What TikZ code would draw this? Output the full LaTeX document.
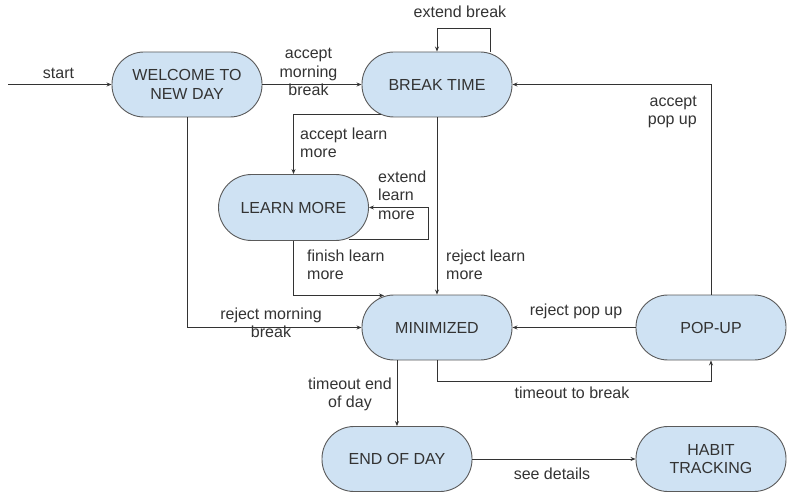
\documentclass[tikz,border=0pt]{standalone}
\usepackage{fontspec}
\setmainfont{Liberation Sans}
\usetikzlibrary{arrows.meta}
\definecolor{statefill}{RGB}{207,226,243}
\definecolor{stateline}{RGB}{90,90,90}
\definecolor{ink}{RGB}{51,51,51}
\newcommand{\fs}{\fontsize{16}{18.5}\selectfont}

\begin{document}
\begin{tikzpicture}[x=1pt,y=-1pt,
  state/.style={draw=stateline,fill=statefill,line width=0.9pt,rounded corners=32pt,
    minimum width=150pt,minimum height=65pt,inner sep=0pt,align=center,text=ink,font=\fs},
  lbl/.style={inner sep=0pt,text=ink,font=\fs},
  arr/.style={draw=ink,line width=0.8pt,-{Stealth[length=5pt,width=4pt]}}]
   \useasboundingbox (0,0) rectangle (796,500);
   \node[state] (welcome) at (187,84.5) {WELCOME TO\\NEW DAY};
   \node[state] (brk)     at (437,84.5) {BREAK TIME};
   \node[state,minimum height=66pt,rounded corners=33pt] (learn) at (293.5,207.5) {LEARN MORE};
   \node[state] (mini)    at (437,327.5) {MINIMIZED};
   \node[state] (popup)   at (711,327.5) {POP-UP};
   \node[state] (endday)  at (397,459) {END OF DAY};
   \node[state] (habit)   at (711,459) {HABIT\\TRACKING};
   \coordinate (entry) at (8,84.5);
   \draw[arr] (entry) -- (welcome);
   \draw[arr] (welcome) -- (brk);
   \draw[arr] ([xshift=53pt]brk.north) -- ++(0,-23) -| (brk.north);
   \draw[arr] ([xshift=-56pt,yshift=-29.5pt]brk.center) -| (learn.north);
   \draw[arr] (brk) -- (mini);
   \draw[arr] ([xshift=55pt,yshift=-31.5pt]learn.center) -| ([xshift=59.5pt]learn.east) -- (learn.east);
   \draw[arr] (learn.south) |- ([xshift=-53pt,yshift=32pt]mini.center);
   \draw[arr] (welcome.south) |- (mini.west);
   \draw[arr] (popup) -- (mini);
   \draw[arr] (mini.south) -- ++(0,21) -| (popup.south);
   \draw[arr] (popup.north) |- (brk.east);
   \draw[arr] (mini.south -| endday.north) -- (endday.north);
   \draw[arr] (endday) -- (habit);
   \node[lbl] (lstart) at (58.5,73) {start};
   \node[lbl,align=center] (lmorning) at (308.5,72.3) {accept\\morning\\break};
   \node[lbl] (lextbrk) at (460,11.6) {extend break};
   \node[lbl,align=left,anchor=north west] (laccl) at (300,127.5) {accept learn\\more};
   \node[lbl,align=left,anchor=north west] (lextl) at (378,170.5) {extend\\learn\\more};
   \node[lbl,align=left,anchor=north west] (lfinl) at (307,249.5) {finish learn\\more};
   \node[lbl,align=left,anchor=north west] (lrejl) at (446,249.5) {reject learn\\more};
   \node[lbl,align=center,anchor=north] (lrejm) at (271,307.5) {reject morning\\break};
   \node[lbl] (lrejp) at (576,311) {reject pop up};
   \node[lbl] (ltobrk) at (572,393) {timeout to break};
   \node[lbl,align=center,anchor=north] (ltoend) at (350,377.5) {timeout end\\of day};
   \node[lbl] (lsee) at (552,474.2) {see details};
   \node[lbl,align=right,anchor=north east] (laccp) at (697,95.5) {accept\\pop up};
\end{tikzpicture}
\end{document}
